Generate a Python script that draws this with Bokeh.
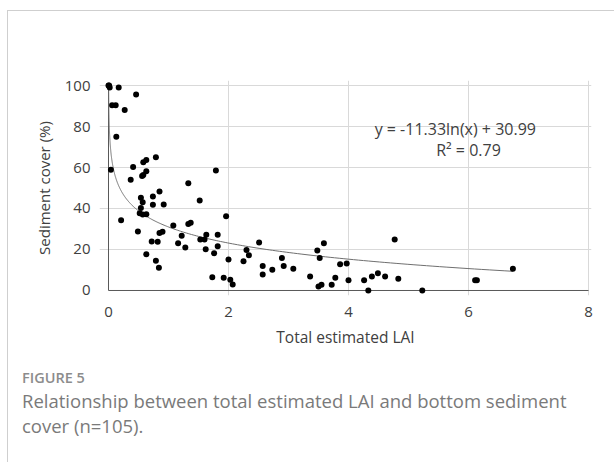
import numpy as np
from bokeh.plotting import figure
from bokeh.layouts import column
from bokeh.models import FixedTicker, Label, Range1d, Div
from bokeh.embed import file_html
from bokeh.resources import INLINE

# ---- data ----
lai = [0, 0.01, 0.02, 0.17, 0.46, 0.06, 0.12, 0.27, 0.13, 0.04, 0.41, 0.58, 0.63, 0.79, 0.63, 0.56, 0.58, 0.37, 1.33, 1.79,
       0.54, 0.57, 0.74, 0.85, 1.52, 0.54, 0.74, 0.92, 0.52, 0.57, 0.63, 0.21, 1.96, 1.08, 1.33, 1.37, 0.49, 0.85, 0.90, 1.22,
       1.63, 1.82, 1.53, 1.60, 0.72, 0.82, 1.16, 1.28, 1.82, 1.62, 1.76, 0.63, 2.00, 0.79, 0.84, 1.73, 1.92, 2.03, 2.07,
       2.51, 2.30, 2.34, 2.25, 2.57, 2.57, 2.73, 2.89, 2.92, 3.08, 3.36, 3.48, 3.52, 3.59, 3.50, 3.55, 3.72, 3.78, 3.86, 3.97,
       4.00, 4.26, 4.33, 4.39, 4.49, 4.61, 4.77, 4.83, 5.23, 6.11, 6.14, 6.74]
sediment = [100, 100, 99, 99, 95.6, 90.4, 90.4, 88, 75, 58.9, 60.3, 62.6, 63.7, 65, 58.2, 55.8, 56.4, 54, 52.3, 58.5,
            45.2, 43.1, 45.9, 48.3, 43.9, 40.3, 41.8, 41.9, 37.7, 37.1, 37.2, 34.3, 36.2, 31.7, 32.4, 33, 28.8, 28, 28.6, 26.7,
            27.2, 27.2, 24.9, 24.9, 23.9, 23.8, 23.1, 21, 21.6, 20.1, 18.2, 17.7, 15.1, 14.5, 11.1, 6.5, 6.2, 5.2, 2.9,
            23.4, 19.7, 17.2, 14.3, 12, 7.8, 10.1, 15.8, 11.9, 10.6, 6.8, 19.5, 15.9, 23.1, 2.0, 2.8, 2.8, 6.2, 12.8, 13.2,
            5.0, 5.0, 0, 6.8, 8.4, 6.8, 24.9, 5.7, 0, 5, 5, 10.6]
x_ticks = [0, 2, 4, 6, 8]
y_ticks = [0, 20, 40, 60, 80, 100]
fit_a = -11.33
fit_b = 30.99
equation = "y = -11.33ln(x) + 30.99"
r2_text = "R\u00b2 = 0.79"
x_title = "Total estimated LAI"
y_title = "Sediment cover (%)"
fig_label = "FIGURE 5"
caption1 = "Relationship between total estimated LAI and bottom sediment"
caption2 = "cover (n=105)."

FONT = "Open Sans"
TXT = "#404040"

p = figure(width=606, height=357, output_backend="svg", toolbar_location=None,
           x_range=Range1d(-0.15, 8.05), y_range=Range1d(-2.44, 102.44),
           min_border_left=91, min_border_right=23, min_border_top=69, min_border_bottom=73,
           background_fill_color="white", border_fill_color="white")
p.outline_line_color = None

# grid
p.xgrid.ticker = FixedTicker(ticks=[t for t in x_ticks if t != 0])
p.ygrid.ticker = FixedTicker(ticks=[t for t in y_ticks if t != 0])
p.xgrid.grid_line_color = "#d9d9d9"
p.ygrid.grid_line_color = "#d9d9d9"

# axes
for ax in (p.xaxis[0], p.yaxis[0]):
    ax.axis_line_color = None
    ax.major_tick_line_color = None
    ax.minor_tick_line_color = None
    ax.major_tick_out = 0
    ax.major_tick_in = 0
    ax.major_label_text_font = FONT
    ax.major_label_text_font_size = "15px"
    ax.major_label_text_color = TXT
    ax.axis_label_text_font = FONT
    ax.axis_label_text_font_style = "normal"
    ax.axis_label_text_color = TXT
p.xaxis.axis_label_text_font_size = "15.5px"
p.yaxis.axis_label_text_font_size = "15px"
p.xaxis.ticker = FixedTicker(ticks=x_ticks)
p.yaxis.ticker = FixedTicker(ticks=y_ticks)
p.xaxis.major_label_standoff = 11
p.yaxis.major_label_standoff = 9
p.xaxis.axis_label = x_title
p.yaxis.axis_label = y_title
p.xaxis.axis_label_standoff = 6
p.yaxis.axis_label_standoff = 8

# axis lines at 0
p.segment(x0=[x_ticks[0], x_ticks[0]], y0=[y_ticks[0], y_ticks[0]],
          x1=[x_ticks[-1], x_ticks[0]], y1=[y_ticks[0], y_ticks[-1]],
          line_color="#595959", line_width=1)

# trendline
xf = np.geomspace(np.exp((fit_b - 100) / -fit_a), max(lai), 400)
p.line(xf, fit_a * np.log(xf) + fit_b, line_color="#6f6f6f", line_width=1)

# points
p.scatter(lai, sediment, size=6, fill_color="black", line_color="black", line_width=0)

# equation labels
p.add_layout(Label(x=5.78, y=79, text=equation, text_align="center", text_baseline="middle",
                   text_font=FONT, text_font_size="16px", text_color=TXT))
p.add_layout(Label(x=6.0, y=68.3, text=r2_text, text_align="center", text_baseline="middle",
                   text_font=FONT, text_font_size="16px", text_color=TXT))

# caption
cap_html = (
    f'<div style="font-family:\'Open Sans\';padding-left:14px;margin:0">'
    f'<div style="font-size:14.5px;font-weight:600;color:#8c8c8c;line-height:20px">{fig_label}</div>'
    f'<div style="font-size:18.5px;color:#7a7a7a;line-height:25px;margin-top:0;white-space:nowrap">'
    f'{caption1}<br>{caption2}</div></div>'
)
cap = Div(text=cap_html, width=606, height=94, margin=0)

layout = column(p, cap, spacing=0,
                styles={"border-top": "1px solid #cfcfcf", "border-left": "1px solid #cfcfcf",
                        "margin-left": "7px", "margin-top": "10px"})

open("out.html", "w").write(file_html(layout, INLINE))
